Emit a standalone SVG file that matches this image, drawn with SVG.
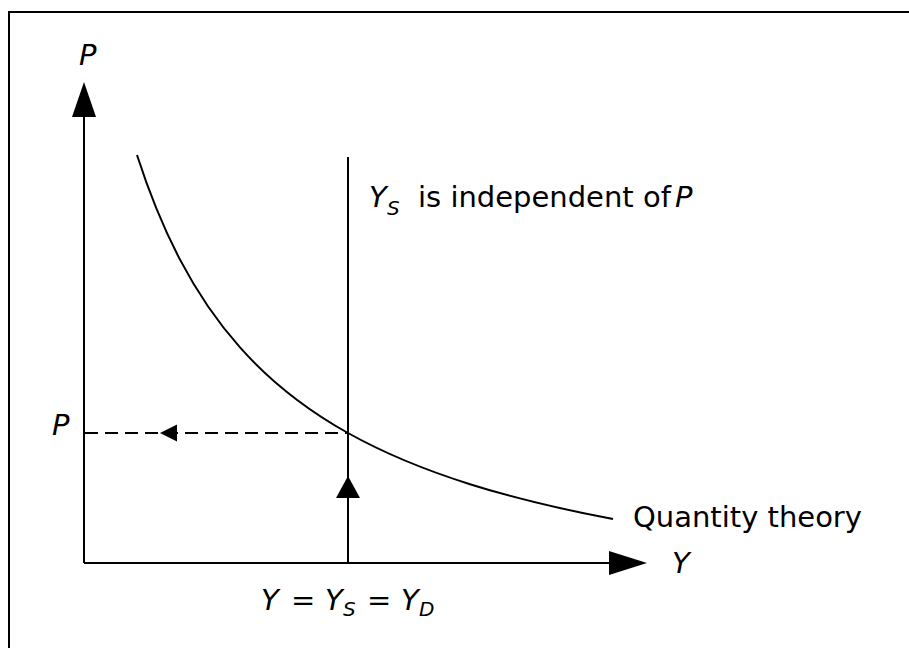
<svg xmlns="http://www.w3.org/2000/svg" width="909" height="648" viewBox="0 0 909 648">
  <style>
    .ln { stroke: #000; stroke-width: 2; fill: none; }
    .dash { stroke: #000; stroke-width: 2; fill: none; stroke-dasharray: 13 7; }
    .ah { fill: #000; stroke: none; }
    .t { font-family: "DejaVu Sans", Verdana, sans-serif; font-size: 29px; fill: #000; }
    .it { font-style: italic; }
    .sub { font-size: 20px; font-style: italic; }
  </style>
  <rect width="909" height="648" fill="#fff"/>
  <g id="frame">
    <path class="ln" d="M9,648 V12 H909"/>
  </g>
  <g id="connectors">
    <line id="y-axis" class="ln" x1="84" y1="563" x2="84" y2="112"/>
    <polygon class="ah" points="84,82 72,117 96,117"/>
    <line id="x-axis" class="ln" x1="84" y1="563" x2="614" y2="563"/>
    <polygon class="ah" points="647,563 609,551 609,575"/>
    <line id="ys-line" class="ln" x1="348" y1="157" x2="348" y2="563"/>
    <polygon class="ah" points="348,476 336,498 360,498"/>
    <line id="p-dash" class="dash" x1="85" y1="433" x2="348" y2="433"/>
    <polygon class="ah" points="160,433 177,424.5 177,441.5"/>
  </g>
  <g id="quantity-curve">
    <path class="ln" d="M137,155 C151.33,199.51 165.67,232.28 180,259.59 C200,297.70 220,324.91 240,347.39 C276,387.85 312,412.87 348,433 C388.67,455.74 429.33,471.38 470,484.18 C517.67,499.18 565.33,510.02 613,519"/>
  </g>
  <g id="label-P-axis"><text class="t it" x="79" y="65">P</text></g>
  <g id="label-P-level"><text class="t it" x="52" y="435">P</text></g>
  <g id="label-Y-axis"><text class="t it" x="672" y="573">Y</text></g>
  <g id="label-ys-independent">
    <text class="t" y="207"><tspan class="it" x="369">Y</tspan><tspan class="sub" x="387" y="215">S</tspan><tspan x="418" y="207">is independent of</tspan><tspan class="it" x="675">P</tspan></text>
  </g>
  <g id="label-quantity-theory"><text class="t" x="633" y="527">Quantity theory</text></g>
  <g id="label-equilibrium">
    <text class="t" y="610"><tspan class="it" x="261">Y</tspan><tspan x="291">=</tspan><tspan class="it" x="325">Y</tspan><tspan class="sub" x="343" y="616">S</tspan><tspan x="367" y="610">=</tspan><tspan class="it" x="401">Y</tspan><tspan class="sub" x="419" y="616">D</tspan></text>
  </g>
</svg>
